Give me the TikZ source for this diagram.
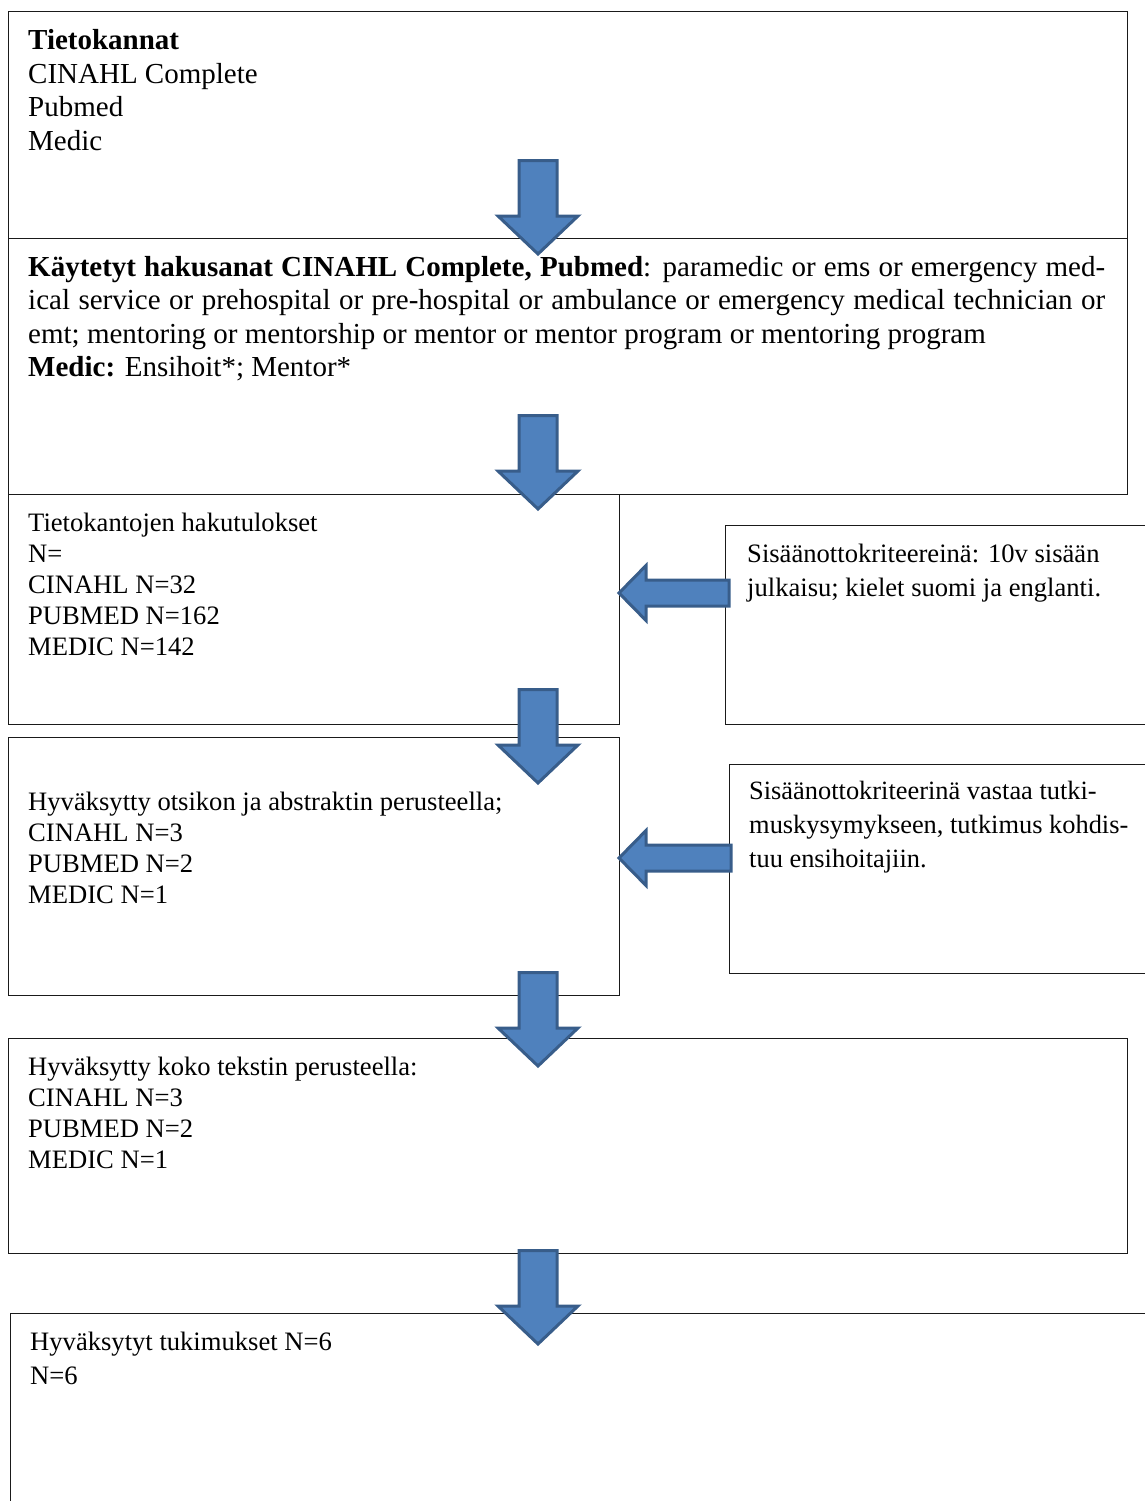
\documentclass[tikz,border=0pt]{standalone}
\usepackage{fontspec}
\setmainfont{Liberation Serif}
\definecolor{arrowfill}{HTML}{4F81BD}
\definecolor{arrowdraw}{HTML}{385D8A}
\definecolor{boxline}{HTML}{1A1A1A}
\tikzset{
  box/.style={draw=boxline, line width=1.3pt, inner sep=0pt, anchor=north west},
  blk/.style={fill=arrowfill, draw=arrowdraw, line width=3pt, line join=miter},
  bigtxt/.style={anchor=base west, inner sep=0pt, font=\fontsize{29}{33.5}\selectfont},
  smtxt/.style={anchor=base west, inner sep=0pt, font=\fontsize{26.6}{31}\selectfont},
  sidetxt/.style={anchor=base west, inner sep=0pt, font=\fontsize{26.6}{34.5}\selectfont},
}
\newcommand{\blockdown}[2]{%
  \draw[blk] (#1-19,#2+1.5) -- (#1+19,#2+1.5) -- (#1+19,#2+57) -- (#1+40,#2+57)
    -- (#1,#2+95) -- (#1-40,#2+57) -- (#1-19,#2+57) -- cycle;}
\newcommand{\blockleft}[3]{% tip x, y, right end x
  \draw[blk] (#1+2,#2) -- (#1+29,#2-27.5) -- (#1+29,#2-13) -- (#3,#2-13)
    -- (#3,#2+13) -- (#1+29,#2+13) -- (#1+29,#2+27.5) -- cycle;}
\begin{document}
\begin{tikzpicture}[x=1pt,y=-1pt]
\useasboundingbox (0,0) rectangle (1145,1501);
\clip (0,0) rectangle (1145,1501);
% boxes
\node[box, minimum width=1119, minimum height=227] (b1) at (8,11) {};
\node[box, minimum width=1119, minimum height=256] (b2) at (8,238) {};
\node[box, minimum width=611, minimum height=230] (b3) at (8,494) {};
\node[box, minimum width=440, minimum height=199] (sa) at (725,525) {};
\node[box, minimum width=611, minimum height=258] (b4) at (8,737) {};
\node[box, minimum width=440, minimum height=209] (sb) at (729,764) {};
\node[box, minimum width=1119, minimum height=215] (b5) at (8,1038) {};
\node[box, minimum width=1150, minimum height=220] (b6) at (10,1313) {};
% texts
\node[bigtxt] (t1) at (28,50) {\parbox[t]{600pt}{\textbf{Tietokannat}\\CINAHL Complete\\Pubmed\\Medic}};
\node[bigtxt] (t2) at (28,276) {\parbox[t]{1077pt}{%
  \makebox[1077pt][s]{\textbf{Käytetyt hakusanat CINAHL Complete, Pubmed}: paramedic or ems or emergency med-}\\
  \makebox[1077pt][s]{ical service or prehospital or pre-hospital or ambulance or emergency medical technician or}\\
  emt; mentoring or mentorship or mentor or mentor program or mentoring program\\
  \textbf{Medic:} Ensihoit*; Mentor*}};
\node[smtxt] (t3) at (28,531) {\parbox[t]{580pt}{Tietokantojen hakutulokset\\N=\\CINAHL N=32\\PUBMED N=162\\MEDIC N=142}};
\node[sidetxt] (ta) at (747,562) {\parbox[t]{420pt}{Sisäänottokriteereinä: 10v sisään\\julkaisu; kielet suomi ja englanti.}};
\node[smtxt] (t4) at (28,810) {\parbox[t]{580pt}{Hyväksytty otsikon ja abstraktin perusteella;\\CINAHL N=3\\PUBMED N=2\\MEDIC N=1}};
\node[sidetxt] (tb) at (749,799) {\parbox[t]{420pt}{\fontsize{26.4}{34}\selectfont Sisäänottokriteerinä vastaa tutki-\\muskysymykseen, tutkimus kohdis-\\tuu ensihoitajiin.}};
\node[smtxt] (t5) at (28,1075) {\parbox[t]{1000pt}{Hyväksytty koko tekstin perusteella:\\CINAHL N=3\\PUBMED N=2\\MEDIC N=1}};
\node[smtxt] (t6) at (30,1350) {\parbox[t]{1000pt}{\fontsize{26.6}{34}\selectfont Hyväksytyt tukimukset N=6\\N=6}};
% block arrows
\blockdown{538}{159}
\blockdown{538}{414}
\blockdown{538}{688}
\blockdown{538}{971}
\blockdown{538}{1249}
\blockleft{617}{593}{729}
\blockleft{617}{858}{731}
\end{tikzpicture}
\end{document}
